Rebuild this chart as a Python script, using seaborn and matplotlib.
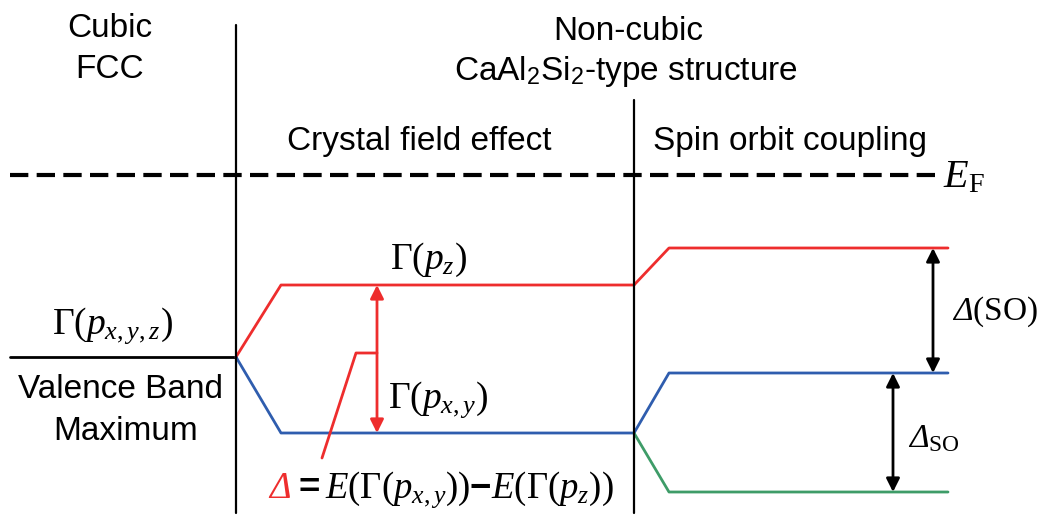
import matplotlib
matplotlib.use("Agg")
import matplotlib.pyplot as plt
import pandas as pd
import seaborn as sns

sns.set_theme(style="white")
plt.rcParams["font.family"] = ["Liberation Sans", "DejaVu Sans"]
plt.rcParams["text.color"] = "black"
plt.rcParams["mathtext.fontset"] = "custom"
plt.rcParams["mathtext.rm"] = "Liberation Serif"
plt.rcParams["mathtext.it"] = "Liberation Serif:italic"
plt.rcParams["mathtext.sf"] = "Liberation Serif:italic"
plt.rcParams["mathtext.bf"] = "Liberation Sans:bold"

# Energy levels (arbitrary units, Fermi level at 0)
E_FERMI = 0.0
E_VBM = -1.82
E_PZ = -1.10
E_PXY = -2.58
E_SO_UPPER = -0.73
E_SO_MIDDLE = -1.98
E_SO_LOWER = -3.17

# Level paths through the three stages: cubic -> crystal field -> spin-orbit
level_names = ["vbm", "pz", "pxy", "so_upper", "so_middle", "so_lower"]
level_x = [
    [10, 236],
    [236, 281, 634],
    [236, 281, 634],
    [634, 669, 948],
    [634, 669, 948],
    [634, 669, 948],
]
level_E = [
    [E_VBM, E_VBM],
    [E_VBM, E_PZ, E_PZ],
    [E_VBM, E_PXY, E_PXY],
    [E_PZ, E_SO_UPPER, E_SO_UPPER],
    [E_PXY, E_SO_MIDDLE, E_SO_MIDDLE],
    [E_PXY, E_SO_LOWER, E_SO_LOWER],
]
level_colors = {
    "vbm": "#000000",
    "pz": "#EE2D2D",
    "pxy": "#2F5DAE",
    "so_upper": "#EE2D2D",
    "so_middle": "#2F5DAE",
    "so_lower": "#3E9C68",
}

rows = []
for name, xs, es in zip(level_names, level_x, level_E):
    for i, (x, e) in enumerate(zip(xs, es)):
        rows.append({"level": name, "step": i, "x": x, "E": e})
levels = pd.DataFrame(rows)

fig = plt.figure(figsize=(10.43, 5.2), dpi=100)
ax = fig.add_axes([0, 0, 1, 1])
ax.set_xlim(0, 1043)
ax.set_ylim(-3.45, 1.75)
ax.axis("off")

sns.lineplot(data=levels, x="x", y="E", hue="level", palette=level_colors,
             units="level", estimator=None, sort=False, legend=False,
             linewidth=2.0, ax=ax)

# Stage separators and Fermi level
ax.plot([236, 236], [1.50, -3.38], color="black", lw=1.6)
ax.plot([634, 634], [0.75, -3.38], color="black", lw=1.6)
ax.plot([10, 935], [E_FERMI, E_FERMI], color="black", lw=3.0,
        dashes=(4.4, 2.0), solid_capstyle="butt", dash_capstyle="butt")

# Splitting arrows
arrow_kw = dict(arrowstyle="<|-|>", lw=2.0, mutation_scale=20,
                shrinkA=0, shrinkB=0)
ax.annotate("", xy=(377, E_PZ), xytext=(377, E_PXY),
            arrowprops=dict(color="#EE2D2D", **arrow_kw))
ax.annotate("", xy=(933, E_SO_UPPER), xytext=(933, E_SO_MIDDLE),
            arrowprops=dict(color="black", **arrow_kw))
ax.annotate("", xy=(893, E_SO_MIDDLE), xytext=(893, E_SO_LOWER),
            arrowprops=dict(color="black", **arrow_kw))

# Leader from the crystal-field arrow down to the definition
ax.plot([377, 356, 322], [-1.78, -1.78, -2.83], color="#EE2D2D", lw=2.0)

sans = 24
serif = 27

ax.text(110, 1.38, "Cubic", ha="center", va="baseline", fontsize=sans)
ax.text(110, 0.97, "FCC", ha="center", va="baseline", fontsize=sans)
ax.text(628, 1.35, "Non-cubic", ha="center", va="baseline", fontsize=sans)
ax.text(626, 0.95, r"CaAl$_\mathregular{2}$Si$_\mathregular{2}$-type structure",
        ha="center", va="baseline", fontsize=sans)
ax.text(287, 0.25, "Crystal field effect", ha="left", va="baseline",
        fontsize=sans)
ax.text(653, 0.25, "Spin orbit coupling", ha="left", va="baseline",
        fontsize=sans)
ax.text(121, -2.23, "Valence Band", ha="center", va="baseline", fontsize=sans)
ax.text(126, -2.65, "Maximum", ha="center", va="baseline", fontsize=sans)

ax.text(943, -0.12, r"$E_\mathrm{F}$", ha="left", va="baseline", fontsize=29)
ax.text(52, -1.59, r"$\Gamma(p_{x,y,z})$", ha="left", va="baseline",
        fontsize=serif)
ax.text(390, -0.94, r"$\Gamma(p_z)$", ha="left", va="baseline",
        fontsize=serif)
ax.text(388, -2.33, r"$\Gamma(p_{x,y})$", ha="left", va="baseline",
        fontsize=serif)
ax.text(952, -1.45, r"$\mathsf{\Delta}(\mathrm{SO})$", ha="left",
        va="baseline", fontsize=24)
ax.text(908, -2.72, r"$\mathsf{\Delta}_\mathrm{SO}$", ha="left",
        va="baseline", fontsize=24)

ax.text(268, -3.23, r"$\mathsf{\Delta}$", ha="left", va="baseline",
        fontsize=26.5, color="#EE2D2D")
ax.text(293, -3.23, r"$\mathbf{=}E(\Gamma(p_{x,y}))\mathbf{-}E(\Gamma(p_z))$",
        ha="left", va="baseline", fontsize=26.5, color="black")

fig.savefig("out.png", dpi=100, facecolor="white")
